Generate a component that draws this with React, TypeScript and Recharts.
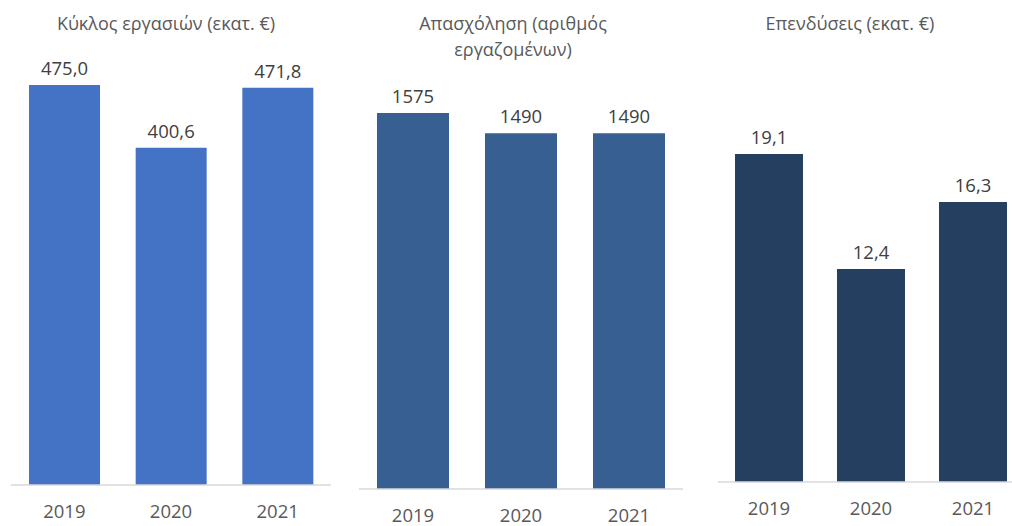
import React from 'react';
import { BarChart, Bar, XAxis, YAxis, LabelList } from 'recharts';

const years = ['2019', '2020', '2021'];
const turnover = [475.0, 400.6, 471.8];
const employment = [1575, 1490, 1490];
const investment = [19.1, 12.4, 16.3];

const titles = ['Κύκλος εργασιών (εκατ. €)', 'Απασχόληση (αριθμός εργαζομένων)', 'Επενδύσεις (εκατ. €)'];

const FONT = '"Open Sans", "Noto Sans", sans-serif';

type PanelProps = {
  values: number[];
  decimals: number;
  left: number;
  right: number;
  base: number;
  domainMax: number;
  pxPerUnit: number;
  barSize: number;
  color: string;
};

const H = 526;
const AXIS_H = 30;

function Panel({ values, decimals, left, right, base, domainMax, pxPerUnit, barSize, color }: PanelProps) {
  const data = years.map((y, i) => ({ year: y, value: values[i] }));
  const top = base - domainMax * pxPerUnit;
  const fmt = (v: any) => {
    const n = Number(v);
    return decimals > 0 ? n.toFixed(decimals).replace('.', ',') : String(n);
  };
  return (
    <div style={{ position: 'absolute', left, top: 0 }}>
      <BarChart
        width={right - left}
        height={H}
        data={data}
        margin={{ top, right: 0, bottom: H - base - AXIS_H, left: 0 }}
      >
        <XAxis
          dataKey="year"
          height={AXIS_H}
          tickLine={false}
          axisLine={{ stroke: '#D9D9D9', strokeWidth: 1.5 }}
          tick={{ fill: '#595959', fontSize: 18.5, fontFamily: FONT }}
          tickMargin={14}
          interval={0}
        />
        <YAxis hide domain={[0, domainMax]} allowDataOverflow />
        <Bar dataKey="value" fill={color} barSize={barSize} isAnimationActive={false}>
          <LabelList
            dataKey="value"
            position="top"
            offset={10}
            formatter={fmt}
            style={{ fill: '#404040', fontSize: 18.5, fontFamily: FONT }}
          />
        </Bar>
      </BarChart>
    </div>
  );
}

const titleStyle: React.CSSProperties = {
  position: 'absolute',
  top: 10,
  textAlign: 'center',
  color: '#595959',
  fontSize: 18,
  lineHeight: '26px',
  fontFamily: FONT,
};

export default function App() {
  return (
    <div
      style={{
        position: 'absolute',
        left: 0,
        top: 0,
        width: 1012,
        height: 526,
        overflow: 'hidden',
        background: '#ffffff',
      }}
    >
      <Panel
        values={turnover}
        decimals={1}
        left={11}
        right={331}
        base={485}
        domainMax={500}
        pxPerUnit={400 / 475}
        barSize={71}
        color="#4472C4"
      />
      <Panel
        values={employment}
        decimals={0}
        left={359}
        right={683}
        base={489}
        domainMax={1800}
        pxPerUnit={376 / 1575}
        barSize={72}
        color="#375F92"
      />
      <Panel
        values={investment}
        decimals={1}
        left={718}
        right={1024}
        base={482}
        domainMax={25}
        pxPerUnit={328 / 19.1}
        barSize={68}
        color="#243F60"
      />
      <div style={{ ...titleStyle, left: 16, width: 300 }}>{titles[0]}</div>
      <div style={{ ...titleStyle, left: 403, width: 220 }}>{titles[1]}</div>
      <div style={{ ...titleStyle, left: 700, width: 300 }}>{titles[2]}</div>
    </div>
  );
}
